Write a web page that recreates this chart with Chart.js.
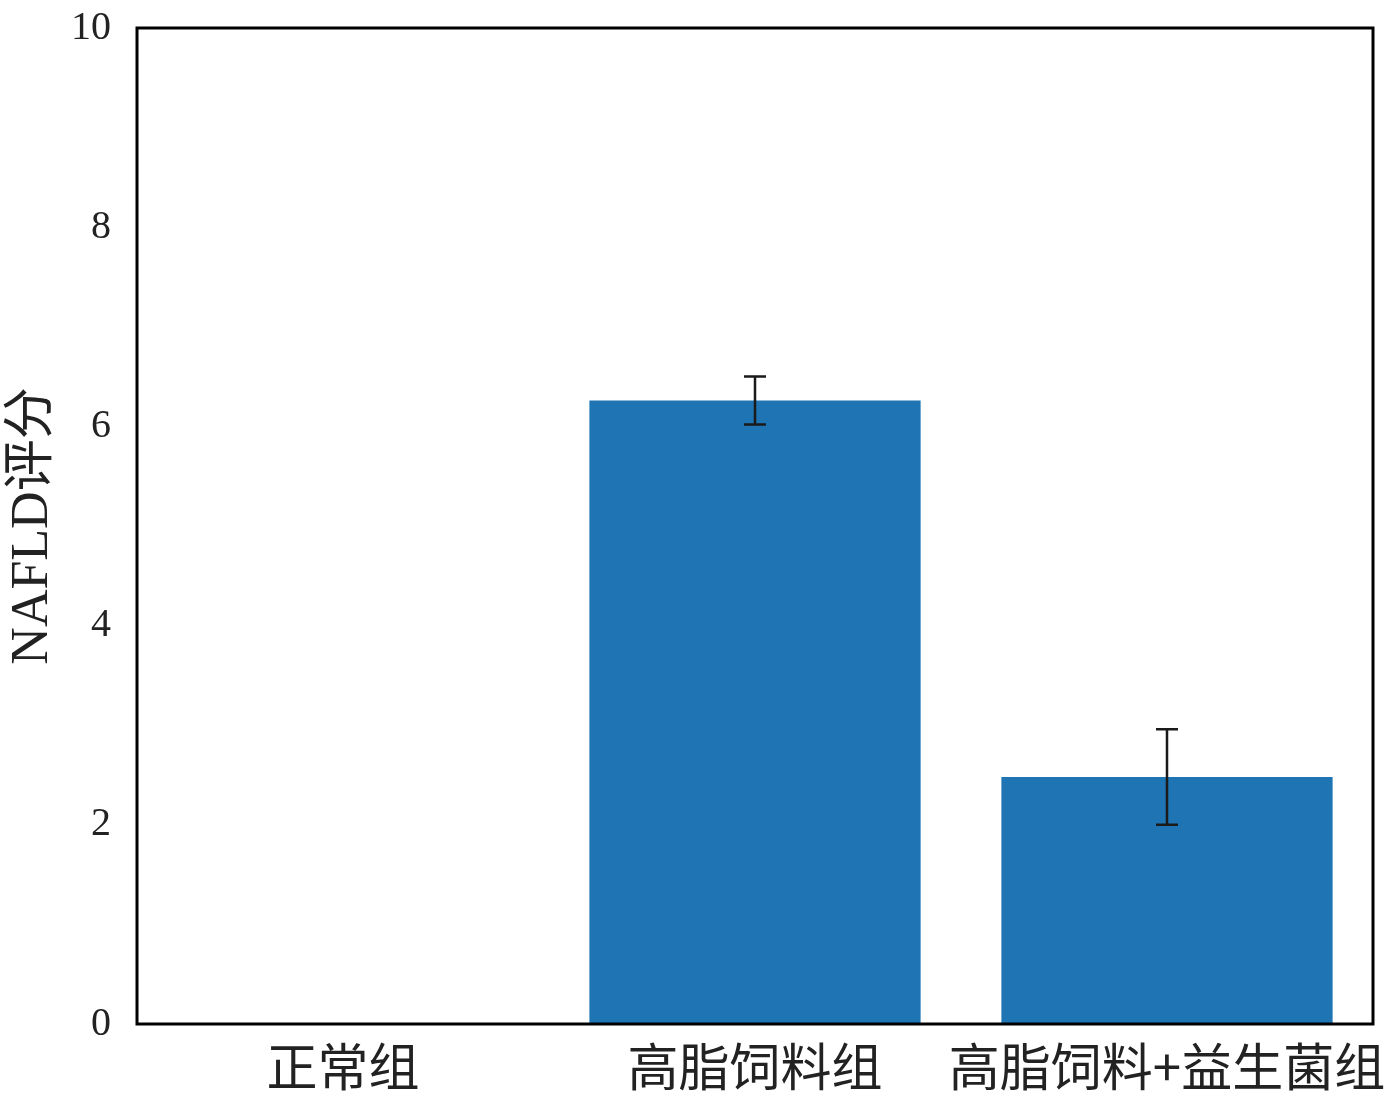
<!DOCTYPE html>
<html>
<head>
<meta charset="utf-8">
<script src="https://cdn.jsdelivr.net/npm/chart.js@4.4.0/dist/chart.umd.min.js"></script>
<style>
  html, body { margin: 0; padding: 0; background: #fff; }
  #wrap { width: 1400px; height: 1108px; }
</style>
</head>
<body>
<div id="wrap"><canvas id="nafldChart" width="1400" height="1108"></canvas></div>
<script>
// data
const groups = ['正常组', '高脂饲料组', '高脂饲料+益生菌组'];
const scores = [0, 6.26, 2.48];
const errors = [0, 0.24, 0.48];
const yTicks = [0, 2, 4, 6, 8, 10];

const serif = '"Liberation Serif", "Noto Sans CJK SC", serif';
const cjk = '"Noto Sans CJK SC", "Liberation Serif", serif';

// error bars drawn from the scale
const errorBarPlugin = {
    id: 'errorBars',
    afterDatasetsDraw(chart) {
        const ctx = chart.ctx;
        const meta = chart.getDatasetMeta(0);
        const yScale = chart.scales.y;
        ctx.save();
        ctx.strokeStyle = '#1a1a1a';
        ctx.lineWidth = 2.5;
        meta.data.forEach((bar, i) => {
            if (!errors[i]) return;
            const x = bar.x;
            const yTop = yScale.getPixelForValue(scores[i] + errors[i]);
            const yBot = yScale.getPixelForValue(scores[i] - errors[i]);
            const cap = 11;
            ctx.beginPath();
            ctx.moveTo(x, yTop);
            ctx.lineTo(x, yBot);
            ctx.moveTo(x - cap, yTop);
            ctx.lineTo(x + cap, yTop);
            ctx.moveTo(x - cap, yBot);
            ctx.lineTo(x + cap, yBot);
            ctx.stroke();
        });
        ctx.restore();
    }
};

// black frame round the plot area
const framePlugin = {
    id: 'frame',
    afterDraw(chart) {
        const { ctx, chartArea: a } = chart;
        ctx.save();
        ctx.strokeStyle = '#000';
        ctx.lineWidth = 3;
        ctx.strokeRect(a.left, a.top, a.right - a.left, a.bottom - a.top);
        ctx.restore();
    }
};

const ctx = document.getElementById('nafldChart').getContext('2d');
new Chart(ctx, {
    type: 'bar',
    data: {
        labels: groups,
        datasets: [{
            label: 'NAFLD评分',
            data: scores,
            backgroundColor: '#1f75b3',
            borderWidth: 0,
            categoryPercentage: 1.0,
            barPercentage: 0.804
        }]
    },
    options: {
        responsive: false,
        animation: false,
        devicePixelRatio: 1,
        layout: { padding: { top: 28, right: 27, left: 0, bottom: 0 } },
        plugins: {
            legend: { display: false },
            tooltip: { enabled: false }
        },
        scales: {
            x: {
                grid: { display: false, drawTicks: false },
                border: { display: false },
                ticks: {
                    color: '#222',
                    font: { family: cjk, size: 51 },
                    padding: 12,
                    maxRotation: 0,
                    autoSkip: false
                },
                afterFit(scale) {
                    scale.height = 84;
                    scale.paddingLeft = 0;
                    scale.paddingRight = 0;
                }
            },
            y: {
                min: 0,
                max: 10,
                grid: { display: false, drawTicks: false },
                border: { display: false },
                afterBuildTicks(scale) {
                    scale.ticks = yTicks.map(v => ({ value: v }));
                },
                ticks: {
                    color: '#222',
                    font: { family: serif, size: 40 },
                    padding: 26
                },
                title: {
                    display: true,
                    text: 'NAFLD评分',
                    color: '#222',
                    font: { family: serif, size: 52 },
                    padding: { top: 2, bottom: 0 }
                },
                afterFit(scale) {
                    scale.width = 137;
                    scale.paddingTop = 0;
                    scale.paddingBottom = 0;
                }
            }
        }
    },
    plugins: [errorBarPlugin, framePlugin]
});
</script>
</body>
</html>
